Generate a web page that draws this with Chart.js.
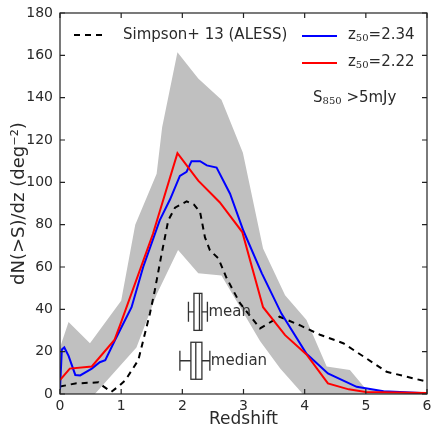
<!DOCTYPE html>
<html>
<head>
<meta charset="utf-8">
<script src="https://cdn.jsdelivr.net/npm/chart.js@4/dist/chart.umd.min.js"></script>
<style>
  html, body { margin: 0; padding: 0; background: #fff; }
  #c { display: block; }
</style>
</head>
<body>
<canvas id="c" width="433" height="431"></canvas>
<script>
// Redshift grid + values
const zBlue = [0, 0.03, 0.07, 0.14, 0.25, 0.33, 0.52, 0.65, 0.74, 0.90, 1.17, 1.36, 1.63, 1.80, 1.96, 2.07, 2.15, 2.29, 2.40, 2.56, 2.78, 3.0, 3.30, 3.62, 4.03, 4.38, 4.85, 5.29, 6.0];
const nBlue = [2, 21, 22, 18, 9, 8.8, 12, 15, 16, 25.5, 41, 60, 82, 92, 103, 105, 110, 110, 108, 107, 94.6, 77, 57, 38, 19, 9.7, 3.4, 1.3, 0.3];

const zRed = [0, 0.16, 0.52, 0.89, 1.0, 1.52, 1.92, 2.26, 2.61, 2.98, 3.32, 3.68, 4.03, 4.38, 4.72, 5.0, 6.0];
const nRed = [6.6, 12, 13, 25.5, 34, 75.7, 113.8, 100.8, 90.6, 76.5, 41, 27.8, 18.7, 5, 2.2, 1, 0.5];

// Simpson+13 (ALESS)
const zAless = [0, 0.25, 0.63, 0.71, 0.84, 0.98, 1.07, 1.28, 1.47, 1.55, 1.66, 1.77, 1.88, 2.07, 2.19, 2.29, 2.37, 2.45, 2.59, 2.72, 2.94, 3.27, 3.59, 3.92, 4.25, 4.63, 5.01, 5.34, 6.0];
const nAless = [3.5, 5, 5.5, 3.6, 1, 4.2, 6.6, 16, 38, 49, 66, 82, 88, 91, 89.5, 86, 74, 68, 64, 55, 43, 31, 36.5, 32.5, 28, 24, 16.8, 10.5, 5.8];

// grey envelope
const zUp = [0, 0.14, 0.49, 1.0, 1.23, 1.58, 1.67, 1.92, 2.26, 2.64, 2.99, 3.32, 3.68, 4.03, 4.36, 4.74, 5.01, 6.0];
const nUp = [22, 34, 24, 44, 80, 104, 126, 161.5, 149, 139, 114, 68.7, 46.7, 35, 13, 11.3, 2, 0.5];
const zLo = [0, 0.57, 1.25, 1.58, 1.93, 2.26, 2.64, 3.27, 3.6, 3.97, 6.0];
const nLo = [0, 0, 22, 47, 68, 57, 56, 25, 12, 0, 0];

// box plots: whisker lo, box lo, centre, box hi, whisker hi
const meanBox = [2.10, 2.19, 2.28, 2.32, 2.41];
const meanBoxY = 38.8;
const medianBox = [1.96, 2.14, 2.22, 2.32, 2.45];
const medianBoxY = 15.7;

const xTickVals = [0, 1, 2, 3, 4, 5, 6];
const yTickVals = [0, 20, 40, 60, 80, 100, 120, 140, 160, 180];

const FONT = 'DejaVu Sans';
const TXT = '#2a2a2a';
Chart.defaults.font.family = FONT;

function pts(xs, ys) {
  return xs.map((v, i) => ({ x: v, y: ys[i] }));
}

// subscript text helper: base, sub (serif, lowered), rest
function subText(ctx, x, y, base, sub, rest, size) {
  ctx.font = size + 'px "' + FONT + '"';
  ctx.fillText(base, x, y);
  x += ctx.measureText(base).width;
  ctx.font = Math.round(size * 0.68) + 'px "DejaVu Serif"';
  ctx.fillText(sub, x, y + size * 0.25);
  x += ctx.measureText(sub).width;
  ctx.font = size + 'px "' + FONT + '"';
  ctx.fillText(rest, x, y);
  return x + ctx.measureText(rest).width;
}

const extras = {
  id: 'extras',
  afterDatasetsDraw(chart) {
    const { ctx, chartArea: a, scales: { x, y } } = chart;
    ctx.save();

    // box plots
    const drawBox = (s, yv, label) => {
      const cy = y.getPixelForValue(yv);
      const p = s.map(v => x.getPixelForValue(v));
      ctx.strokeStyle = '#333';
      ctx.lineWidth = 1.3;
      ctx.fillStyle = '#fff';
      ctx.fillRect(p[1], cy - 18.5, p[3] - p[1], 37);
      ctx.strokeRect(p[1], cy - 18.5, p[3] - p[1], 37);
      ctx.beginPath();
      ctx.moveTo(p[2], cy - 18.5); ctx.lineTo(p[2], cy + 18.5);
      ctx.moveTo(p[0], cy); ctx.lineTo(p[1], cy);
      ctx.moveTo(p[3], cy); ctx.lineTo(p[4], cy);
      ctx.moveTo(p[0], cy - 10); ctx.lineTo(p[0], cy + 10);
      ctx.moveTo(p[4], cy - 10); ctx.lineTo(p[4], cy + 10);
      ctx.stroke();
      ctx.fillStyle = '#333';
      ctx.font = '15px "' + FONT + '"';
      ctx.textBaseline = 'middle';
      ctx.textAlign = 'left';
      ctx.fillText(label, p[4] + 1, cy);
    };
    drawBox(meanBox, meanBoxY, 'mean');
    drawBox(medianBox, medianBoxY, 'median');

    // frame + inward ticks
    ctx.strokeStyle = '#222';
    ctx.lineWidth = 1.2;
    ctx.strokeRect(a.left, a.top, a.right - a.left, a.bottom - a.top);
    ctx.beginPath();
    x.ticks.forEach(t => {
      const px = x.getPixelForValue(t.value);
      ctx.moveTo(px, a.bottom); ctx.lineTo(px, a.bottom - 5);
      ctx.moveTo(px, a.top); ctx.lineTo(px, a.top + 5);
    });
    y.ticks.forEach(t => {
      const py = y.getPixelForValue(t.value);
      ctx.moveTo(a.left, py); ctx.lineTo(a.left + 5, py);
      ctx.moveTo(a.right, py); ctx.lineTo(a.right - 5, py);
    });
    ctx.stroke();

    // legend
    ctx.textBaseline = 'middle';
    ctx.textAlign = 'left';
    ctx.fillStyle = TXT;
    ctx.lineWidth = 2;
    ctx.strokeStyle = '#000';
    ctx.setLineDash([6, 5]);
    ctx.beginPath(); ctx.moveTo(74, 35); ctx.lineTo(107, 35); ctx.stroke();
    ctx.setLineDash([]);
    ctx.font = '15px "' + FONT + '"';
    ctx.fillText('Simpson+ 13 (ALESS)', 123, 35);

    ctx.strokeStyle = '#0000ff';
    ctx.beginPath(); ctx.moveTo(302, 36); ctx.lineTo(337, 36); ctx.stroke();
    subText(ctx, 348, 35, 'z', '50', '=2.34', 15);

    ctx.strokeStyle = '#ff0000';
    ctx.beginPath(); ctx.moveTo(302, 63); ctx.lineTo(337, 63); ctx.stroke();
    subText(ctx, 348, 62, 'z', '50', '=2.22', 15);

    subText(ctx, 313, 98, 'S', '850', ' >5mJy', 15);

    ctx.restore();
  }
};

new Chart(document.getElementById('c').getContext('2d'), {
  type: 'line',
  data: {
    datasets: [
      { label: 'upper', data: pts(zUp, nUp), fill: 1, backgroundColor: '#c0c0c0',
        borderWidth: 0, pointRadius: 0, order: 10 },
      { label: 'lower', data: pts(zLo, nLo), fill: false, borderWidth: 0,
        pointRadius: 0, order: 11 },
      { label: 'Simpson+ 13 (ALESS)', data: pts(zAless, nAless), borderColor: '#000',
        borderDash: [6, 5], borderWidth: 2, pointRadius: 0, fill: false, order: 3 },
      { label: 'z50=2.34', data: pts(zBlue, nBlue), borderColor: '#0000ff',
        borderWidth: 2, pointRadius: 0, fill: false, order: 2 },
      { label: 'z50=2.22', data: pts(zRed, nRed), borderColor: '#ff0000',
        borderWidth: 2, pointRadius: 0, fill: false, order: 1 }
    ]
  },
  options: {
    responsive: false,
    animation: false,
    layout: { padding: { top: 13, right: 6, left: 0, bottom: 0 } },
    plugins: { legend: { display: false }, tooltip: { enabled: false } },
    elements: { line: { tension: 0 } },
    scales: {
      x: {
        type: 'linear', min: 0, max: 6,
        afterBuildTicks: s => { s.ticks = xTickVals.map(v => ({ value: v })); },
        ticks: { color: TXT, font: { size: 14 }, padding: 4, maxRotation: 0 },
        grid: { display: false, drawTicks: false },
        border: { display: false },
        title: { display: true, text: 'Redshift', color: TXT, font: { size: 17 },
                 padding: { top: 0, bottom: 1 } },
        afterFit: s => { s.height = 37; s.paddingLeft = 0; s.paddingRight = 0; }
      },
      y: {
        min: 0, max: 180,
        afterBuildTicks: s => { s.ticks = yTickVals.map(v => ({ value: v })); },
        ticks: { color: TXT, font: { size: 14 }, padding: 7 },
        grid: { display: false, drawTicks: false },
        border: { display: false },
        title: { display: true, text: 'dN(>S)/dz (deg⁻²)', color: TXT, font: { size: 18 },
                 padding: { top: 9, bottom: 0 } },
        afterFit: s => { s.width = 60; s.paddingTop = 0; s.paddingBottom = 0; }
      }
    }
  },
  plugins: [extras]
});
</script>
</body>
</html>
